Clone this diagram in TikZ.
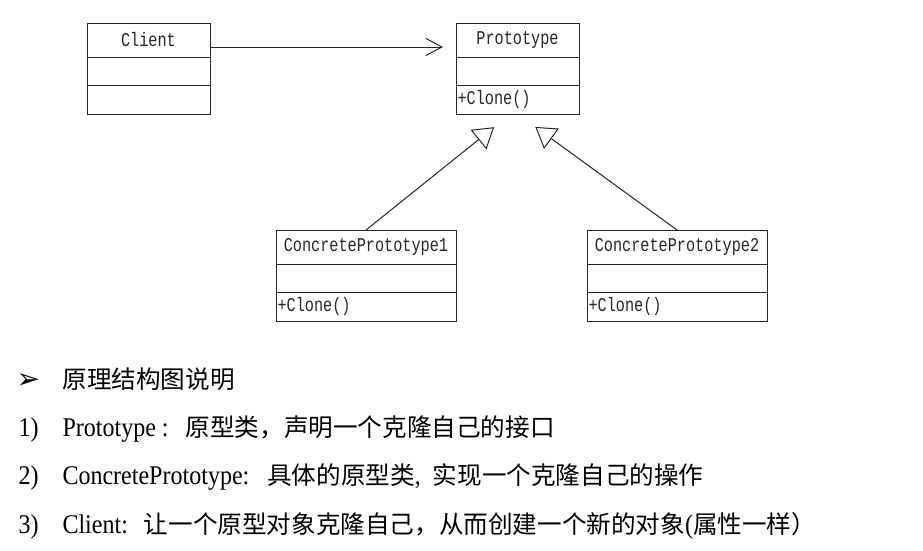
\documentclass[tikz,border=0pt]{standalone}
\usepackage{fontspec}
\setmainfont{Liberation Serif}[FakeStretch=0.89]
\newfontfamily\cjk{Noto Sans CJK SC}
\newfontfamily\umlfont{Liberation Mono}[FakeStretch=0.78]
\newfontfamily\symfont{DejaVu Sans}
\usetikzlibrary{arrows.meta,positioning}
\newcommand{\zhtext}[1]{{\cjk\fontsize{24.6}{28}\selectfont #1}}

\tikzset{
  umlname/.style={draw, rectangle, outer sep=0pt, inner sep=0pt, minimum width=#1,
    minimum height=34pt, font=\umlfont\fontsize{19.5}{22}\selectfont, text=black!85},
  umlattr/.style={draw, rectangle, outer sep=0pt, inner sep=0pt, minimum width=#1,
    minimum height=28.5pt},
  umlops/.style={draw, rectangle, outer sep=0pt, inner xsep=1.5pt, inner ysep=0pt,
    text width=#1, minimum height=28.5pt, align=left,
    font=\umlfont\fontsize{19.5}{22}\selectfont, text=black!85},
  note/.style={anchor=base west, inner sep=0pt, font=\fontsize{27}{32}\selectfont},
  assoc/.style={-{Straight Barb[length=16pt,width=17pt]}, shorten >=13pt},
  inherit/.style={-{Triangle[open,length=20pt,width=25pt]}},
}

\begin{document}
\begin{tikzpicture}[x=1pt, y=-1pt, line width=1pt, draw=black!85]
    \useasboundingbox (0,0) rectangle (923,550);

    % classes
    \node[umlname=123pt] (client) at (148.5,40) {Client};
    \node[umlattr=123pt, below=0pt of client] (clientattr) {};
    \node[umlattr=123pt, below=0pt of clientattr] (clientops) {};

    \node[umlname=123pt] (proto) at (517.5,40) {Prototype};
    \node[umlattr=123pt, below=0pt of proto] (protoattr) {};
    \node[umlops=120pt, below=0pt of protoattr] (protoops) {+Clone()};

    \node[umlname=180pt] (cp1) at (366,247) {ConcretePrototype1};
    \node[umlattr=180pt, below=0pt of cp1] (cp1attr) {};
    \node[umlops=177pt, below=0pt of cp1attr] (cp1ops) {+Clone()};

    \node[umlname=180pt] (cp2) at (677,247) {ConcretePrototype2};
    \node[umlattr=180pt, below=0pt of cp2] (cp2attr) {};
    \node[umlops=177pt, below=0pt of cp2attr] (cp2ops) {+Clone()};

    % relations
    \draw[assoc] ([yshift=-7pt]client.east) -- ([yshift=-7pt]proto.west);
    \draw[inherit, shorten >=21pt] (cp1.north) -- ([xshift=-7pt]protoops.south);
    \draw[inherit, shorten >=22pt] (cp2.north) -- (protoops.south);

    % notes
    \node[note] (bullet) at (16,388) {\symfont\fontsize{28}{30}\selectfont ➢};
    \node[note] (heading) at (62,388) {\zhtext{原理结构图说明}};
    \foreach \n/\y in {1/436,2/484,3/533} \node[note] (num\n) at (18,\y) {\n)};
    \node[note] (line1) at (62,436) {Prototype :\hspace{17pt}\zhtext{原型类，声明一个克隆自己的接口}};
    \node[note] (line2) at (62,484) {ConcretePrototype:\hspace{18pt}\zhtext{具体的原型类},\hspace{12pt}\zhtext{实现一个克隆自己的操作}};
    \node[note] (line3) at (62,533) {Client:\hspace{16pt}\zhtext{让一个原型对象克隆自己，从而创建一个新的对象}(\zhtext{属性一样）}};

\end{tikzpicture}
\end{document}
